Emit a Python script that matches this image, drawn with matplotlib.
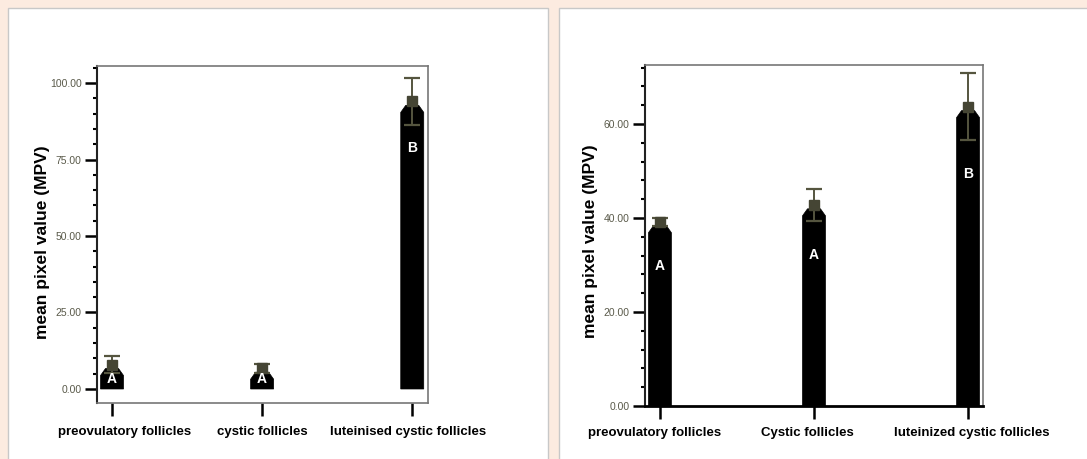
import matplotlib
matplotlib.use("Agg")
import matplotlib.pyplot as plt
import matplotlib.transforms as mtransforms
from matplotlib.patches import Rectangle, Polygon
from matplotlib.ticker import MultipleLocator, FormatStrFormatter

plt.rcParams['font.family'] = ['Liberation Sans', 'DejaVu Sans']

# ---- data ----
left_categories = ["preovulatory follicles", "cystic follicles", "luteinised cystic follicles"]
left_means = [8.0, 6.8, 94.0]
left_se = [2.8, 1.5, 7.6]
left_letters = ["A", "A", "B"]
left_letter_y = [3.2, 3.2, 78.8]

right_categories = ["preovulatory follicles", "Cystic follicles", "luteinized cystic follicles"]
right_means = [39.2, 42.8, 63.7]
right_se = [0.8, 3.4, 7.1]
right_letters = ["A", "A", "B"]
right_letter_y = [29.8, 32.1, 49.4]

W, H = 1087, 459
fig = plt.figure(figsize=(W / 100, H / 100), dpi=100)
fig.patch.set_facecolor('#fcebe0')

# white panels
for (x0, x1) in [(8, 548), (559, 1095)]:
    fig.patches.append(Rectangle((x0 / W, -0.05), (x1 - x0) / W, (H - 8) / H + 0.05,
                                 transform=fig.transFigure, facecolor='white',
                                 edgecolor='#c8c8c8', linewidth=1.0, zorder=-10))

ERR_C = '#55553f'
MARK_C = '#454534'
TICK_C = '#5a5a4a'


def make_panel(rect, cats, means, se, letters, letter_y, ylim, xlim, major, minor,
               bottom_dark, label_xy, label_shifts, xlabel_y):
    ax = fig.add_axes(rect)
    ax.set_zorder(5)
    ax.set_xlim(*xlim)
    ax.set_ylim(*ylim)
    # pixel -> data conversion
    axw = rect[2] * W
    axh = rect[3] * H
    ppx = axw / (xlim[1] - xlim[0])
    ppy = axh / (ylim[1] - ylim[0])
    xs = list(range(len(cats)))
    for x, m in zip(xs, means):
        hw = 11.5 / ppx
        nw = 6.5 / ppx
        neck = m - 4 / ppy
        sh = m - 11 / ppy
        pts = [(x - hw, 0), (x - hw, sh), (x - nw, neck), (x + nw, neck), (x + hw, sh), (x + hw, 0)]
        ax.add_patch(Polygon(pts, closed=True, facecolor='black', edgecolor='black',
                             linewidth=0.5, zorder=2))
    ax.errorbar(xs, means, yerr=se, fmt='none', ecolor=ERR_C, elinewidth=1.4,
                capsize=5.5, capthick=1.6, zorder=3)
    ax.plot(xs, means, 's', color=MARK_C, ms=7, zorder=3)
    for x, t, ly in zip(xs, letters, letter_y):
        ax.text(x, ly, t, color='white', fontsize=10, fontweight='bold',
                ha='center', va='center', zorder=5)
    ax.set_xticks(xs)
    ax.set_xticklabels([])
    base = mtransforms.blended_transform_factory(ax.transData, ax.transAxes)
    for x, cat, dx in zip(xs, cats, label_shifts):
        tr = base + mtransforms.ScaledTranslation(dx / 100, 0, fig.dpi_scale_trans)
        ax.text(x, xlabel_y, cat, transform=tr, fontsize=9.5, fontweight='bold',
                ha='center', va='center', clip_on=False)
    ax.yaxis.set_major_locator(MultipleLocator(major))
    ax.yaxis.set_minor_locator(MultipleLocator(minor))
    ax.yaxis.set_major_formatter(FormatStrFormatter('%.2f'))
    ax.tick_params(axis='y', which='major', length=9, width=1.8, labelsize=7.5,
                   labelcolor=TICK_C, pad=2, color='black')
    ax.tick_params(axis='y', which='minor', length=3, width=1.5, color='black')
    ax.tick_params(axis='x', which='major', length=9, width=1.8, color='black')
    ax.set_ylabel('mean pixel value (MPV)', fontsize=12.5, fontweight='bold')
    ax.yaxis.set_label_coords(*label_xy)
    for s in ['top', 'right']:
        ax.spines[s].set_color('#777777')
        ax.spines[s].set_linewidth(1.2)
    ax.spines['left'].set_color('#222222')
    ax.spines['left'].set_linewidth(1.5)
    if bottom_dark:
        ax.spines['bottom'].set_color('black')
        ax.spines['bottom'].set_linewidth(2.0)
    else:
        ax.spines['bottom'].set_color('#777777')
        ax.spines['bottom'].set_linewidth(1.2)
    return ax


axL = make_panel([97 / W, (H - 403) / H, 331 / W, 337 / H], left_categories, left_means,
                 left_se, left_letters, left_letter_y, (-4.58, 105.56), (-0.1, 2.105),
                 25, 5, False, (-0.142, 0.478), [13, 0, -4], -0.086)
axR = make_panel([645 / W, (H - 406) / H, 338 / W, 341 / H], right_categories, right_means,
                 right_se, right_letters, right_letter_y, (0, 72.55), (-0.097, 2.097),
                 20, 4, True, (-0.139, 0.484), [-5, -7, 4], -0.079)

fig.savefig('out.png', dpi=100, facecolor=fig.get_facecolor())
